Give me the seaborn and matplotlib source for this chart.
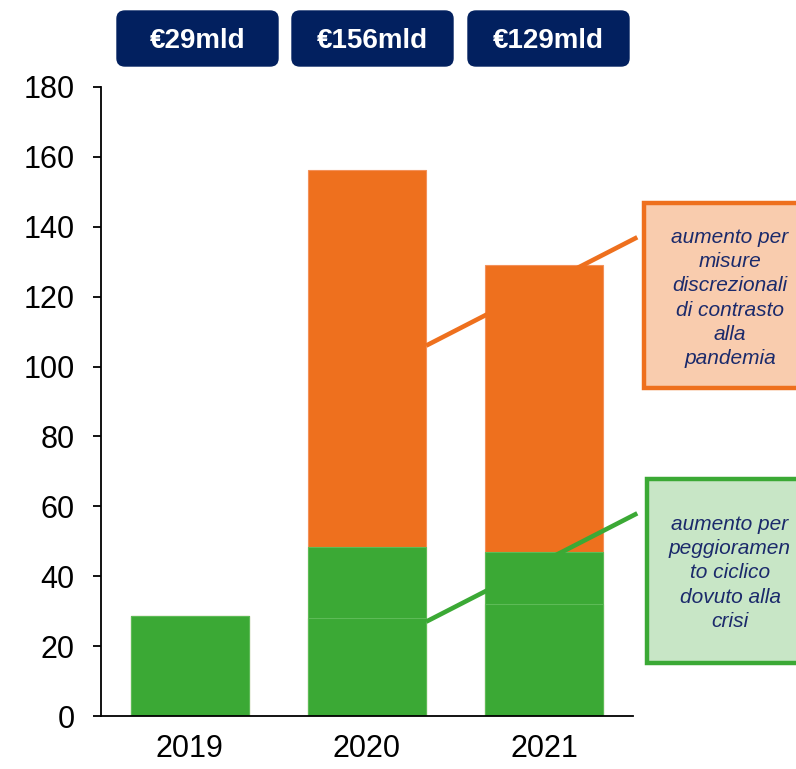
import numpy as np
import pandas as pd
import seaborn as sns
import matplotlib.pyplot as plt
from matplotlib.patches import FancyBboxPatch, Rectangle

# dati (miliardi di euro)
years = ['2019', '2020', '2021']
green_base = [28.6, 28, 32]
green_add = [0, 20.3, 15]
orange_add = [0, 108, 82]
total_labels = ['€29mld', '€156mld', '€129mld']
note_orange = 'aumento per\nmisure\ndiscrezionali\ndi contrasto\nalla\npandemia'
note_green = 'aumento per\npeggioramen\nto ciclico\ndovuto alla\ncrisi'

GREEN = '#3BA935'
ORANGE = '#EE701E'
NAVY = '#02205F'
TXT = '#1B2A6B'

sns.set_style('white')
plt.rcParams['font.family'] = ['Liberation Sans', 'DejaVu Sans']

df = pd.DataFrame({'year': years, 'base': green_base,
                   'green': np.add(green_base, green_add)})
df['total'] = df['green'] + np.array(orange_add)

W, H = 796, 769
fig = plt.figure(figsize=(W / 100, H / 100), dpi=100)
ax = fig.add_axes([101 / W, 1 - 716 / H, (633 - 101) / W, (716 - 87) / H])

# barre sovrapposte: totale, poi verde cumulato, poi base verde
sns.barplot(data=df, x='year', y='total', color=ORANGE, saturation=1,
            width=0.665, edgecolor='#F3915A', linewidth=0.8, ax=ax)
sns.barplot(data=df, x='year', y='green', color=GREEN, saturation=1,
            width=0.665, edgecolor='#5DBB57', linewidth=0.8, ax=ax)
sns.barplot(data=df, x='year', y='base', color=GREEN, saturation=1,
            width=0.665, edgecolor='#5DBB57', linewidth=0.8, ax=ax)

ax.set_xlim(-0.5, 2.5)
ax.set_ylim(0, 180)
ax.set_yticks(range(0, 181, 20))
ax.set_xlabel('')
ax.set_ylabel('')
for s in ['top', 'right']:
    ax.spines[s].set_visible(False)
for s in ['left', 'bottom']:
    ax.spines[s].set_color('black')
    ax.spines[s].set_linewidth(1.3)
ax.tick_params(axis='y', left=True, length=6, width=1.3, pad=13, labelsize=22, colors='black')
ax.tick_params(axis='x', bottom=False, length=0, pad=13, labelsize=22, colors='black')

# linee di collegamento alle note
ax.plot([1.334, 2.524], [106, 137], color=ORANGE, lw=3.3, clip_on=False, zorder=5,
        solid_capstyle='butt')
ax.plot([1.334, 2.524], [27, 58], color=GREEN, lw=3.3, clip_on=False, zorder=5,
        solid_capstyle='butt')

# etichette totali in alto
box_x = [117, 292, 468]
for x0, lab in zip(box_x, total_labels):
    p = FancyBboxPatch((x0 / W, 1 - 66 / H), 161 / W, 55 / H,
                       boxstyle='round,pad=0,rounding_size=0.01',
                       transform=fig.transFigure, facecolor=NAVY, edgecolor=NAVY)
    fig.add_artist(p)
    fig.text((x0 + 80.5) / W, 1 - 41 / H, lab, color='white', fontsize=20,
             fontweight='bold', ha='center', va='center')

# riquadri note
fig.add_artist(Rectangle((644 / W, 1 - 388 / H), 200 / W, 185 / H,
                         transform=fig.transFigure, facecolor='#F9CCAE',
                         edgecolor=ORANGE, lw=3.2))
fig.text(730 / W, 1 - 298 / H, note_orange, color=TXT, fontsize=15, style='italic',
         ha='center', va='center', linespacing=1.35)
fig.add_artist(Rectangle((647 / W, 1 - 663 / H), 200 / W, 184 / H,
                         transform=fig.transFigure, facecolor='#C8E6C6',
                         edgecolor=GREEN, lw=3.2))
fig.text(730 / W, 1 - 573 / H, note_green, color=TXT, fontsize=15, style='italic',
         ha='center', va='center', linespacing=1.35)

fig.savefig('out.png', dpi=100)
